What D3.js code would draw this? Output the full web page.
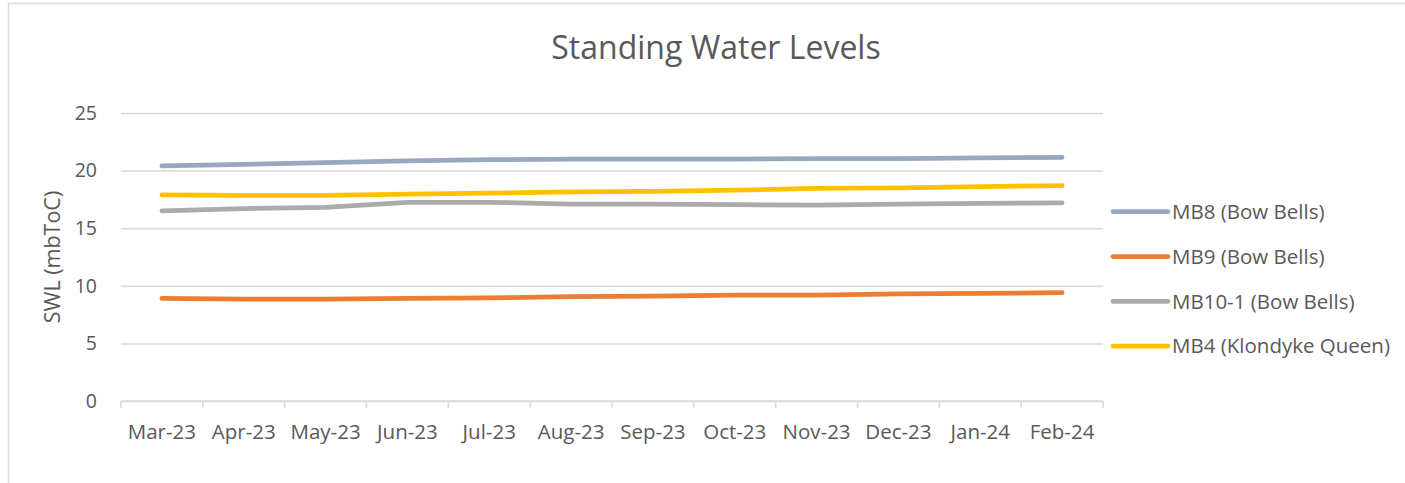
<!DOCTYPE html>
<html>
<head>
<meta charset="utf-8">
<script src="https://cdn.jsdelivr.net/npm/d3@7"></script>
<style>
  body { margin: 0; background: #fff; }
  text { font-family: "Open Sans", sans-serif; fill: #595959; }
</style>
</head>
<body>
<div id="chart"></div>
<script>
// values
var months = ["Mar-23", "Apr-23", "May-23", "Jun-23", "Jul-23", "Aug-23",
              "Sep-23", "Oct-23", "Nov-23", "Dec-23", "Jan-24", "Feb-24"]
var mb8  = [20.4, 20.55, 20.7, 20.85, 20.95, 21.0, 21.0, 21.0, 21.05, 21.05, 21.1, 21.15]
var mb9  = [8.9, 8.85, 8.85, 8.9, 8.95, 9.05, 9.1, 9.2, 9.2, 9.3, 9.35, 9.4]
var mb10 = [16.5, 16.7, 16.8, 17.25, 17.25, 17.1, 17.1, 17.05, 17.0, 17.1, 17.15, 17.2]
var mb4  = [17.9, 17.85, 17.85, 17.95, 18.05, 18.15, 18.2, 18.3, 18.45, 18.5, 18.6, 18.7]
var yTicks = [0, 5, 10, 15, 20, 25]

var series = [
  { name: "MB8 (Bow Bells)", values: mb8, color: "#98a8c0" },
  { name: "MB9 (Bow Bells)", values: mb9, color: "#ed7d31" },
  { name: "MB10-1 (Bow Bells)", values: mb10, color: "#adaaaa" },
  { name: "MB4 (Klondyke Queen)", values: mb4, color: "#ffc000" }
]

var width = 1405, height = 483
// plot box (named so they don't clash with window.top)
var plotLeft = 121, plotRight = 1103, plotTop = 113, plotBottom = 401

var svg = d3.select("#chart").append("svg")
  .attr("width", width)
  .attr("height", height)

// chart area border (right and bottom run off the picture)
svg.append("rect")
  .attr("x", 8.5).attr("y", 3.5)
  .attr("width", width).attr("height", height)
  .attr("fill", "none")
  .attr("stroke", "#d9d9d9")
  .attr("stroke-width", 1.5)

var x = d3.scaleBand().domain(months).range([plotLeft, plotRight]).padding(0)
var y = d3.scaleLinear().domain([0, 25]).range([plotBottom, plotTop])

// gridlines
svg.append("g")
  .attr("transform", "translate(" + plotLeft + ",0)")
  .call(d3.axisLeft(y).tickValues(yTicks).tickSize(-(plotRight - plotLeft)).tickFormat(""))
  .call(function(g) {
    g.select(".domain").remove()
    g.selectAll("line").attr("stroke", "#d9d9d9").attr("stroke-width", 1.5)
  })

// y labels
svg.append("g")
  .selectAll("text")
  .data(yTicks)
  .join("text")
  .attr("x", 97)
  .attr("y", function(d) { return y(d) })
  .attr("dy", "0.35em")
  .attr("text-anchor", "end")
  .style("font-size", "19.5px")
  .text(function(d) { return d })

// x axis with ticks between categories
var xAxis = svg.append("g")
  .attr("transform", "translate(0," + plotBottom + ")")
xAxis.append("line")
  .attr("x1", plotLeft).attr("x2", plotRight)
  .attr("stroke", "#d9d9d9").attr("stroke-width", 1.5)
xAxis.selectAll(".tick")
  .data(months.concat(["end"]))
  .join("line")
  .attr("class", "tick")
  .attr("x1", function(d, i) { return i < months.length ? x(d) : plotRight })
  .attr("x2", function(d, i) { return i < months.length ? x(d) : plotRight })
  .attr("y1", 0).attr("y2", 7)
  .attr("stroke", "#d9d9d9").attr("stroke-width", 1.5)
xAxis.selectAll("text")
  .data(months)
  .join("text")
  .attr("x", function(d) { return x(d) + x.bandwidth() / 2 })
  .attr("y", 38)
  .attr("text-anchor", "middle")
  .style("font-size", "20.5px")
  .text(function(d) { return d })

// lines
var line = d3.line()
  .x(function(d, i) { return x(months[i]) + x.bandwidth() / 2 })
  .y(function(d) { return y(d) })

svg.append("g")
  .selectAll("path")
  .data(series)
  .join("path")
  .attr("d", function(s) { return line(s.values) })
  .attr("fill", "none")
  .attr("stroke", function(s) { return s.color })
  .attr("stroke-width", 4.75)
  .attr("stroke-linecap", "round")
  .attr("stroke-linejoin", "round")

// title
svg.append("text")
  .attr("x", 716).attr("y", 59)
  .attr("text-anchor", "middle")
  .style("font-size", "32px")
  .text("Standing Water Levels")

// y axis title
svg.append("text")
  .attr("transform", "translate(60,257) rotate(-90)")
  .attr("text-anchor", "middle")
  .style("font-size", "21.5px")
  .text("SWL (mbToC)")

// legend
var legend = svg.append("g")
  .selectAll("g")
  .data(series)
  .join("g")
  .attr("transform", function(s, i) { return "translate(1113," + (211.7 + i * 44.8) + ")" })
legend.append("line")
  .attr("x1", 0).attr("x2", 55)
  .attr("stroke", function(s) { return s.color })
  .attr("stroke-width", 4.75)
  .attr("stroke-linecap", "round")
legend.append("text")
  .attr("x", 59)
  .attr("dy", "0.36em")
  .style("font-size", "20.5px")
  .text(function(s) { return s.name })
</script>
</body>
</html>
